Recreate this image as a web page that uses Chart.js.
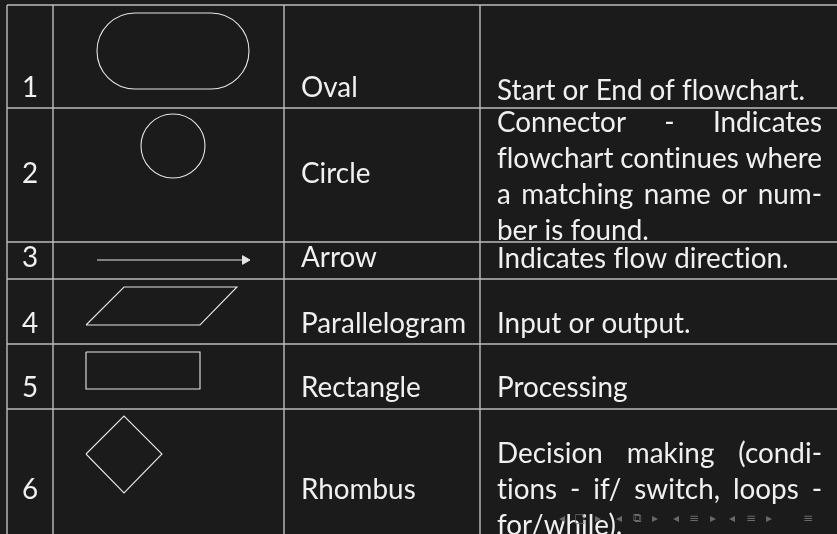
<!DOCTYPE html>
<html>
<head>
<meta charset="utf-8">
<script src="https://cdn.jsdelivr.net/npm/chart.js@4"></script>
<style>
  html, body { margin: 0; padding: 0; background: #1b1b1b; }
  #wrap { width: 837px; height: 534px; position: relative; }
</style>
</head>
<body>
<div id="wrap"><canvas id="tabela"></canvas></div>
<script>
// table content
const rowNumbers = ['1', '2', '3', '4', '5', '6'];
const shapeNames = ['Oval', 'Circle', 'Arrow', 'Parallelogram', 'Rectangle', 'Rhombus'];
const descriptions = [
  ['Start or End of flowchart.'],
  ['Connector - Indicates', 'flowchart continues where', 'a matching name or num-', 'ber is found.'],
  ['Indicates flow direction.'],
  ['Input or output.'],
  ['Processing'],
  ['Decision making (condi-', 'tions - if/ switch, loops -', 'for/while).']
];
const navSymbols = ['◂', '□', '▸', '◂', '⧉', '▸', '◂', '≡', '▸', '◂', '≡', '▸', '≡'];

// layout (pixel units of the page, mapped through the scales)
const colEdges = [7, 53, 284, 480, 850];
const rowEdges = [5, 108, 242, 279, 344, 409, 545];
const rowBaselines = [97, 183, 267, 333, 397, 499];
const descBaselines = [100, 132, 268, 333, 397, 463];
const lineGap = 36;
const nameLeft = 301, descLeft = 497, descRight = 822;
const navX = [562, 580, 598, 619, 637, 655, 676, 694, 713, 732, 751, 769, 808];

const corGrade = '#bdbdbd';
const corForma = '#e6e6e6';
const corTexto = '#f0f0f0';

function segmento(a, b) {
  return {
    data: [a, b], showLine: true, pointRadius: 0,
    borderColor: corGrade, borderWidth: 1.4
  };
}

const datasets = [];
rowEdges.slice(0, -1).forEach(y => datasets.push(segmento({x: colEdges[0], y: y}, {x: 850, y: y})));
colEdges.slice(0, -1).forEach(x => datasets.push(segmento({x: x, y: rowEdges[0]}, {x: x, y: 545})));

function forma(pts) {
  return {
    data: pts.map(p => ({x: p[0], y: p[1]})), showLine: true, pointRadius: 0,
    borderColor: corForma, borderWidth: 1.1, fill: false
  };
}
// parallelogram, rectangle, rhombus, arrow shaft
datasets.push(forma([[86, 325], [124, 287], [237, 287], [200, 325], [86, 325]]));
datasets.push(forma([[86, 352], [200, 352], [200, 389], [86, 389], [86, 352]]));
datasets.push(forma([[86, 454], [124, 416], [162, 454], [124, 493], [86, 454]]));
datasets.push(forma([[97, 260], [243, 260]]));
// arrow head
datasets.push({
  data: [{x: 245, y: 260}], showLine: false, pointStyle: 'triangle', rotation: 90,
  pointRadius: 5, backgroundColor: corForma, borderColor: corForma, borderWidth: 1
});
// circle
datasets.push({
  data: [{x: 173, y: 146}], showLine: false, pointStyle: 'circle',
  pointRadius: 32, backgroundColor: 'rgba(0,0,0,0)', borderColor: corForma, borderWidth: 1.1
});

const fonte = '29px Lato';
let escala = 1;

function texto(ctx, s, x, y) {
  ctx.save();
  ctx.translate(x, y);
  ctx.scale(escala, 1);
  ctx.fillText(s, 0, 0);
  ctx.restore();
}
function largura(ctx, s) { return ctx.measureText(s).width * escala; }

function justificado(ctx, linha, left, right, y) {
  const palavras = linha.split(' ');
  const soma = palavras.reduce((t, p) => t + largura(ctx, p), 0);
  const gap = (right - left - soma) / (palavras.length - 1);
  let x = left;
  palavras.forEach(p => { texto(ctx, p, x, y); x += largura(ctx, p) + gap; });
}

const pluginTabela = {
  id: 'tabela',
  afterDatasetsDraw(chart) {
    const ctx = chart.ctx;
    const sx = chart.scales.x, sy = chart.scales.y;
    const px = v => sx.getPixelForValue(v), py = v => sy.getPixelForValue(v);

    // oval (stadium)
    const x0 = px(97), x1 = px(249), y0 = py(13), y1 = py(89);
    const r = (y1 - y0) / 2;
    ctx.save();
    ctx.strokeStyle = corForma; ctx.lineWidth = 1.1;
    ctx.beginPath();
    ctx.moveTo(x0 + r, y0);
    ctx.lineTo(x1 - r, y0);
    ctx.arc(x1 - r, y0 + r, r, -Math.PI / 2, Math.PI / 2);
    ctx.lineTo(x0 + r, y1);
    ctx.arc(x0 + r, y0 + r, r, Math.PI / 2, Math.PI * 1.5);
    ctx.stroke();
    ctx.restore();

    ctx.save();
    ctx.font = fonte;
    // tiny letter spacing keeps Lato from using its "ti" ligature
    if ('letterSpacing' in ctx) ctx.letterSpacing = '0.01px';
    ctx.fillStyle = corTexto;
    ctx.textBaseline = 'alphabetic';
    escala = 1;
    escala = 308 / ctx.measureText('Start or End of flowchart.').width;

    rowNumbers.forEach((n, i) => {
      const cx = (colEdges[0] + colEdges[1]) / 2;
      texto(ctx, n, px(cx) - largura(ctx, n) / 2, py(rowBaselines[i]));
      texto(ctx, shapeNames[i], px(nameLeft), py(rowBaselines[i]));
      const linhas = descriptions[i];
      linhas.forEach((l, j) => {
        const y = py(descBaselines[i] + j * lineGap);
        if (j < linhas.length - 1) justificado(ctx, l, px(descLeft), px(descRight), y);
        else texto(ctx, l, px(descLeft), y);
      });
    });

    // beamer navigation symbols
    if ('letterSpacing' in ctx) ctx.letterSpacing = '0px';
    ctx.font = '12px "DejaVu Sans"';
    ctx.fillStyle = '#6a6a6a';
    ctx.textAlign = 'center';
    navSymbols.forEach((s, i) => ctx.fillText(s, px(navX[i]), py(522)));
    ctx.restore();
  }
};

new Chart(document.getElementById('tabela'), {
  type: 'scatter',
  data: { datasets: datasets },
  options: {
    responsive: true,
    maintainAspectRatio: false,
    animation: false,
    layout: { padding: 0, autoPadding: false },
    scales: {
      x: { type: 'linear', min: 0, max: 837, display: false },
      y: { type: 'linear', min: 0, max: 534, reverse: true, display: false }
    },
    plugins: { legend: { display: false }, tooltip: { enabled: false } }
  },
  plugins: [pluginTabela]
});
</script>
</body>
</html>
